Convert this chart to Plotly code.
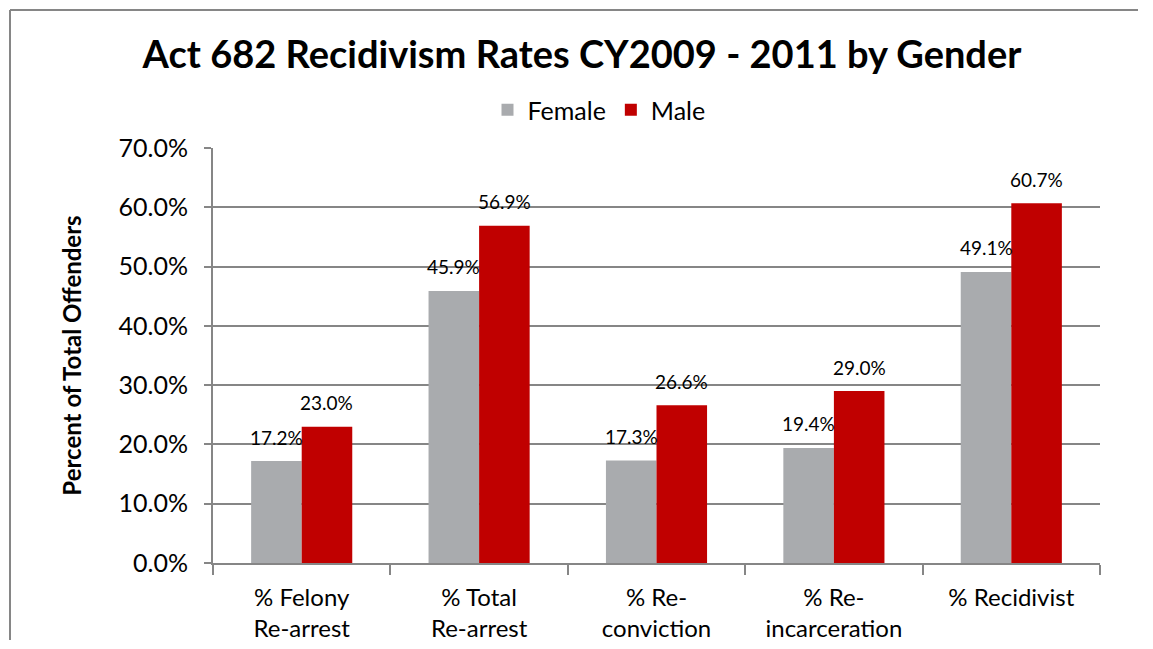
import plotly.graph_objects as go

categories = ["% Felony<br>Re-arrest", "% Total<br>Re-arrest", "% Re-<br>conviction",
              "% Re-<br>incarceration", "% Recidivist"]
female = [17.2, 45.9, 17.3, 19.4, 49.1]
male = [23.0, 56.9, 26.6, 29.0, 60.7]
y_ticks = [0, 10, 20, 30, 40, 50, 60, 70]
y_tick_labels = ["0.0%", "10.0%", "20.0%", "30.0%", "40.0%", "50.0%", "60.0%", "70.0%"]

FONT = "Lato, 'Open Sans', sans-serif"
GRID = "#868686"
OFF = 8  # page body offset
W, H = 1153 - 2 * OFF, 649 - 2 * OFF
# target plot area in screen px: x 213..1100, y 148..563
ML, MT = 213 - OFF, 148 - OFF
MR = W - (1100 - OFF)
MB = H - (563 - OFF)
BARGAP = 0.43
plot_w = W - ML - MR
plot_h = H - MT - MB
bar_px = plot_w / len(categories) * (1 - BARGAP) / 2


def px_x(x):
    return (x - OFF - ML) / plot_w


def px_y(y):
    return (563 - y) / plot_h


fig = go.Figure()
fig.add_trace(go.Bar(name="Female", x=categories, y=female, marker_color="#A9ABAE",
                     marker_line_width=0))
fig.add_trace(go.Bar(name="Male", x=categories, y=male, marker_color="#C00000",
                     marker_line_width=0))

annotations = []
for cat, f, m in zip(categories, female, male):
    annotations.append(dict(x=cat, y=f, text=f"{f:.1f}%", showarrow=False, xref="x", yref="y",
                            xshift=-bar_px / 2, yshift=24, yanchor="middle",
                            font=dict(family=FONT, size=19, color="#000")))
    annotations.append(dict(x=cat, y=m, text=f"{m:.1f}%", showarrow=False, xref="x", yref="y",
                            xshift=bar_px / 2, yshift=24, yanchor="middle",
                            font=dict(family=FONT, size=19, color="#000")))

fig.update_layout(
    width=W, height=H,
    margin=dict(l=ML, r=MR, t=MT, b=MB, autoexpand=False),
    paper_bgcolor="white", plot_bgcolor="white",
    barmode="group", bargap=BARGAP, bargroupgap=0,
    title=dict(text="<b>Act 682 Recidivism Rates CY2009 - 2011 by Gender</b>",
               x=(582 - OFF) / W, xanchor="center", y=1 - (55 - OFF) / H, yanchor="middle",
               font=dict(family=FONT, size=38, color="#000")),
    legend=dict(orientation="h", x=px_x(599), xanchor="center",
                y=px_y(110), yanchor="middle",
                font=dict(family=FONT, size=25, color="#000"),
                itemwidth=30, bgcolor="rgba(0,0,0,0)"),
    font=dict(family=FONT, color="#000"),
    annotations=annotations,
    showlegend=True,
)

fig.update_yaxes(range=[0, 70], tickvals=y_ticks, ticktext=y_tick_labels,
                 showgrid=True, gridcolor=GRID, gridwidth=2,
                 showline=True, linecolor=GRID, linewidth=2,
                 ticks="outside", ticklen=7, tickwidth=2, tickcolor=GRID,
                 ticklabelstandoff=11,
                 tickfont=dict(family=FONT, size=25, color="#000"),
                 zeroline=False,
                 title=dict(text="<b>Percent of Total Offenders</b>", standoff=30,
                            font=dict(family=FONT, size=24, color="#000")))
fig.update_xaxes(showline=True, linecolor=GRID, linewidth=2,
                 ticks="outside", ticklen=10, tickwidth=2, tickcolor=GRID,
                 tickson="boundaries", showgrid=False, ticklabelstandoff=12,
                 tickfont=dict(family=FONT, size=24, color="#000"))

# outer chart border (only left and top edges fall inside the picture)
fig.add_shape(type="line", xref="paper", yref="paper",
              x0=px_x(10), x1=px_x(10), y0=px_y(10), y1=px_y(OFF + H - 1),
              line=dict(color=GRID, width=2), layer="below")
fig.add_shape(type="line", xref="paper", yref="paper",
              x0=px_x(10), x1=px_x(1138), y0=px_y(10), y1=px_y(10),
              line=dict(color=GRID, width=2), layer="below")

fig.write_html("out.html")
